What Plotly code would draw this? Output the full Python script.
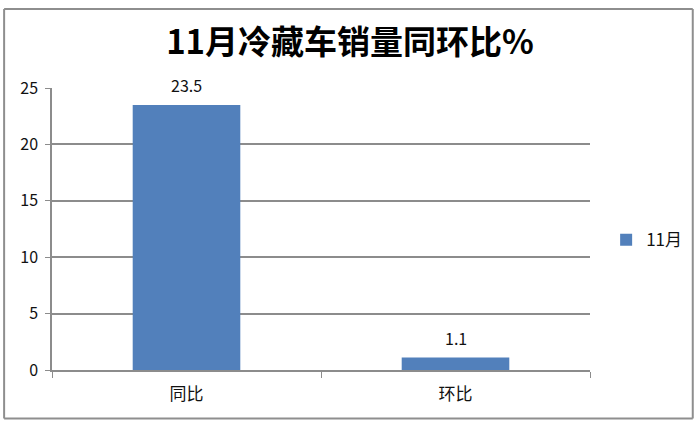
import plotly.graph_objects as go

# Данные графика
categories = ['同比', '环比']
values = [23.5, 1.1]
series_name = '11月'
title_text = '11月冷藏车销量同环比%'
y_ticks = [0, 5, 10, 15, 20, 25]

bar_color = '#5280BB'
grid_color = '#8C8C8C'
font_cjk = 'Noto Sans CJK SC'

fig = go.Figure()

fig.add_trace(go.Bar(
    x=categories, y=values, name=series_name,
    marker=dict(color=bar_color, line=dict(width=0)),
    showlegend=True
))

# Подписи значений над столбцами
for c, v in zip(categories, values):
    fig.add_annotation(x=c, y=v, text=str(v), showarrow=False,
                       yanchor='bottom', yshift=6,
                       font=dict(family=font_cjk, size=16, color='#111'))

# Рамка вокруг всего графика: отдельные линии по краям
frame = dict(color='#8E8E8E', width=2)
x_l, x_r, y_b, y_t = -0.089, 1.191, -0.172, 1.28
for x0, y0, x1, y1 in [(x_l, y_t, x_r, y_t), (x_l, y_b, x_r, y_b),
                       (x_l, y_b, x_l, y_t), (x_r, y_b, x_r, y_t)]:
    fig.add_shape(type='line', xref='paper', yref='paper',
                  x0=x0, y0=y0, x1=x1, y1=y1, line=frame, layer='above')

fig.update_layout(
    width=700, height=425,
    margin=dict(l=52, r=110, t=88, b=55),
    paper_bgcolor='white', plot_bgcolor='white',
    title=dict(text='<b>' + title_text + '</b>', x=0.5, xanchor='center',
               y=0.9, yanchor='middle',
               font=dict(family=font_cjk, size=33, color='#000')),
    bargap=0.6,
    legend=dict(x=1.03, y=0.46, xanchor='left', yanchor='middle',
                font=dict(family=font_cjk, size=17, color='#111'),
                itemwidth=30, bgcolor='rgba(0,0,0,0)'),
    xaxis=dict(showgrid=False, showline=True, linecolor=grid_color, linewidth=1.5,
               ticks='outside', tickson='boundaries', ticklen=6, tickcolor=grid_color,
               ticklabelstandoff=8,
               tickfont=dict(family=font_cjk, size=17, color='#111')),
    yaxis=dict(range=[0, 25], tickvals=y_ticks, showgrid=True, gridcolor=grid_color,
               gridwidth=1.5, zeroline=False, showline=True, linecolor=grid_color,
               linewidth=1.5, ticks='outside', ticklen=5, tickcolor=grid_color,
               ticklabelstandoff=4,
               tickfont=dict(family=font_cjk, size=16, color='#111')),
)

# Убираем стандартные отступы страницы, чтобы график занимал всё окно
fig.write_html('out.html', config={'displayModeBar': False},
               post_script="document.body.style.margin='0';")
